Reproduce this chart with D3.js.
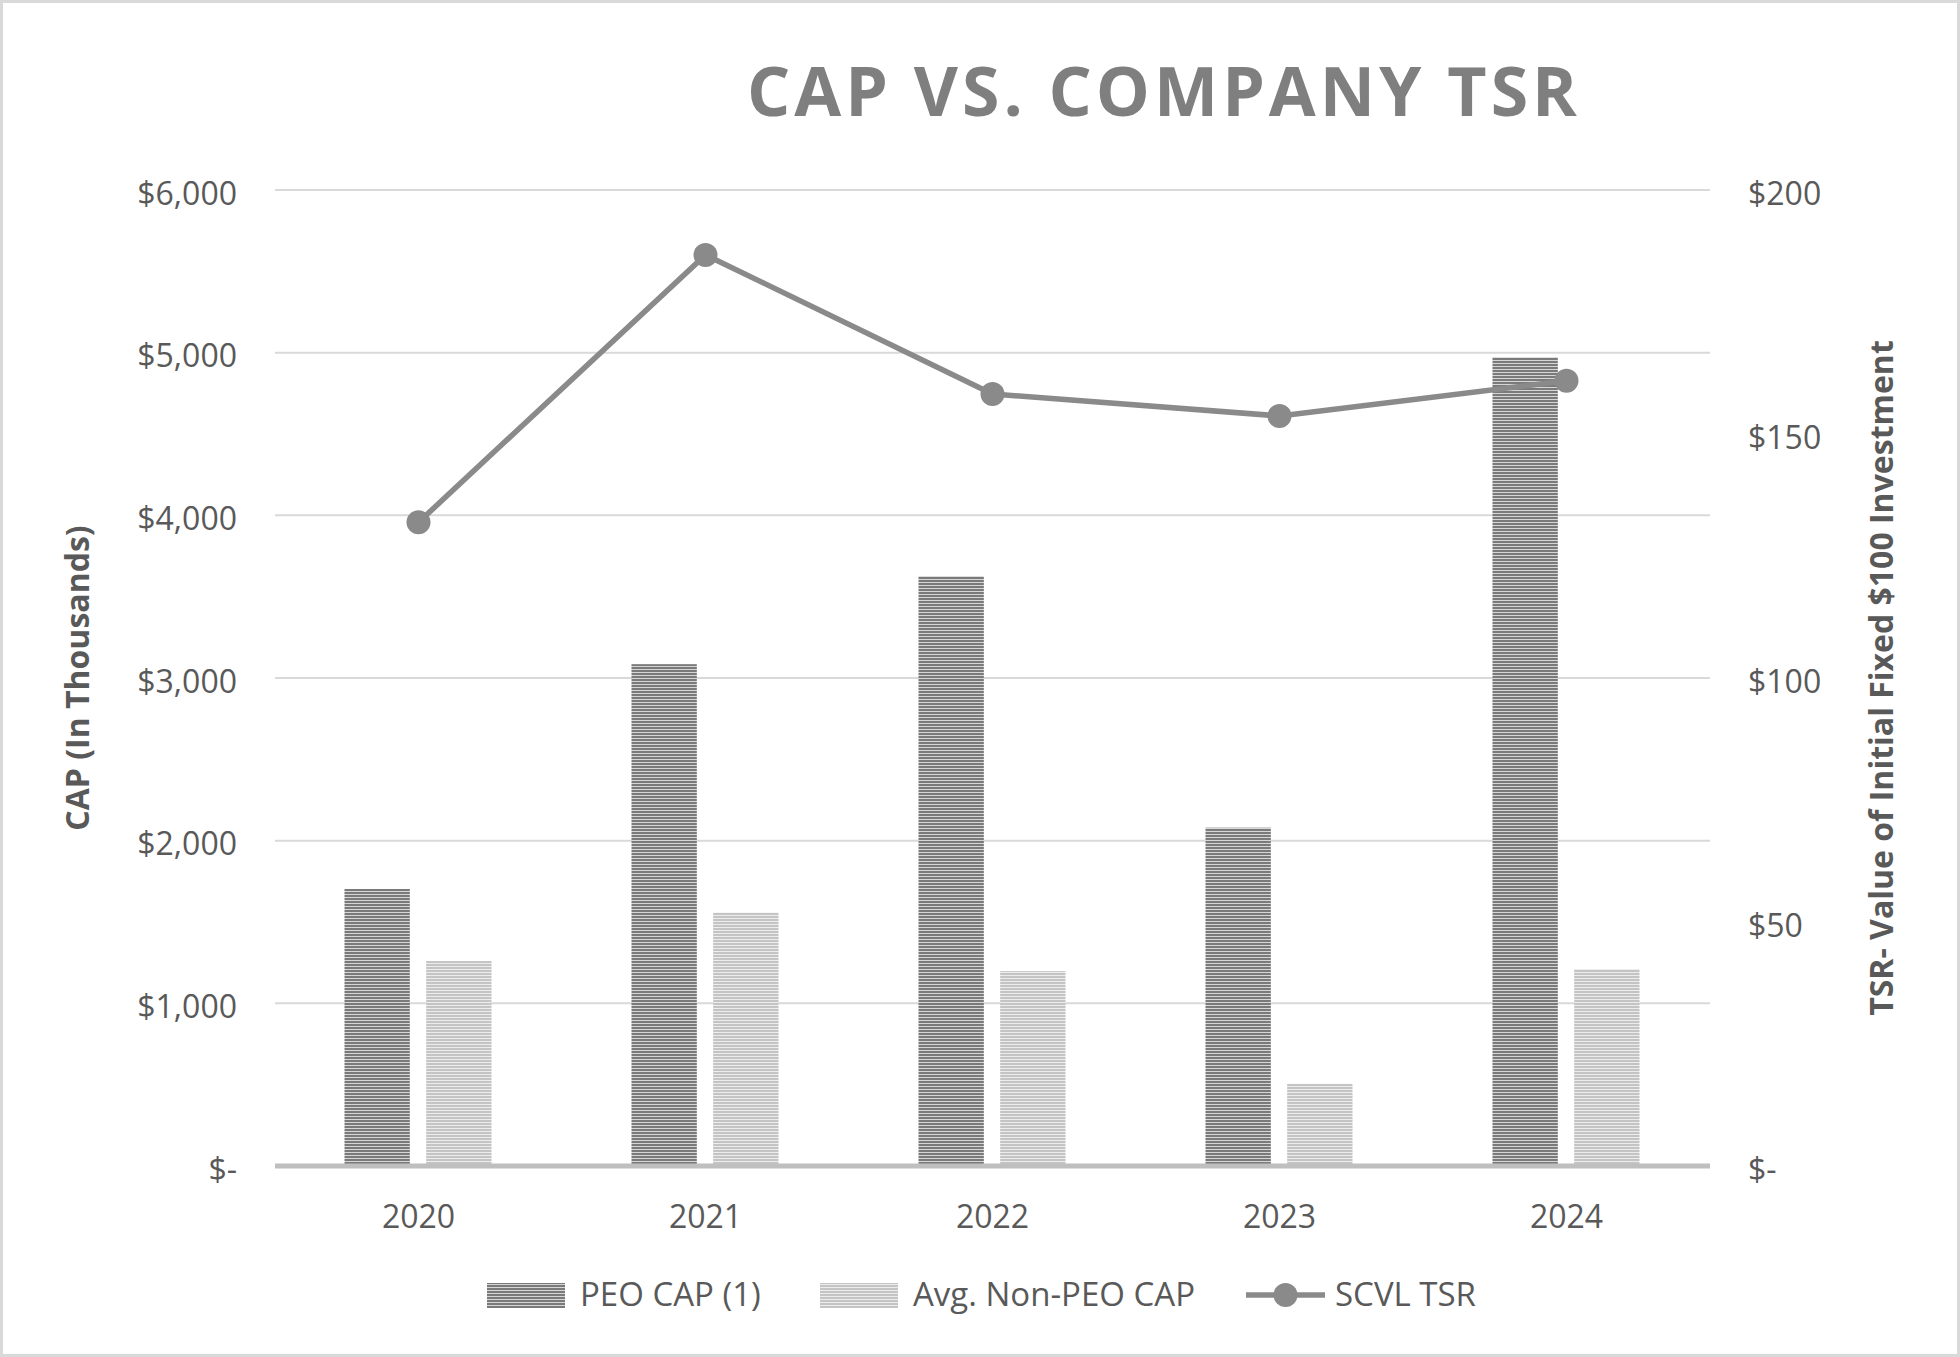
<!DOCTYPE html>
<html>
<head>
<meta charset="utf-8">
<script src="https://cdn.jsdelivr.net/npm/d3@7"></script>
<style>
  html, body { margin: 0; padding: 0; background: #fff; }
  svg { display: block; font-family: "Open Sans", sans-serif; }
</style>
</head>
<body>
<div id="chart"></div>
<script>
// Data
const years = ["2020", "2021", "2022", "2023", "2024"];
const peoCap = [1703, 3085, 3626, 2080, 4972];        // $ thousands
const nonPeoCap = [1260, 1558, 1198, 505, 1211];      // $ thousands
const scvlTsr = [131.9, 186.7, 158.2, 153.7, 160.9];  // value of $100
const leftTicks = [0, 1000, 2000, 3000, 4000, 5000, 6000];
const rightTicks = [0, 50, 100, 150, 200];
const seriesNames = ["PEO CAP (1)", "Avg. Non-PEO CAP", "SCVL TSR"];

const width = 1960, height = 1357;
const plot = { left: 275, right: 1710, top: 190, bottom: 1166 };
const textColor = "#595959";
const lineColor = "#8a8a8a";

const svg = d3.select("#chart").append("svg")
    .attr("width", width).attr("height", height);

// Striped fills like the Excel pattern bars
const defs = svg.append("defs");
function stripes(id, bg, fg) {
    const p = defs.append("pattern").attr("id", id)
        .attr("patternUnits", "userSpaceOnUse")
        .attr("width", 6).attr("height", 3);
    p.append("rect").attr("width", 6).attr("height", 3).attr("fill", bg);
    p.append("rect").attr("y", 1).attr("width", 6).attr("height", 2).attr("fill", fg);
}
stripes("pat-dark", "#d6d6d6", "#7a7a7a");
stripes("pat-light", "#ececec", "#c4c4c4");

// Outer border
svg.append("rect").attr("x", 1.5).attr("y", 1.5)
    .attr("width", width - 3).attr("height", height - 3)
    .attr("fill", "#fff").attr("stroke", "#d9d9d9").attr("stroke-width", 3);

// Scales
const x = d3.scaleBand().domain(years).range([plot.left, plot.right]).padding(0);
const xs = d3.scaleBand().domain([0, 1]).range([-74, 73]).paddingInner(0.2).paddingOuter(0);
const y = d3.scaleLinear().domain([0, 6000]).range([plot.bottom, plot.top]);
const y2 = d3.scaleLinear().domain([0, 200]).range([plot.bottom, plot.top]);

// Gridlines
svg.append("g").selectAll("line").data(leftTicks.filter(d => d > 0)).enter().append("line")
    .attr("x1", plot.left).attr("x2", plot.right)
    .attr("y1", d => y(d)).attr("y2", d => y(d))
    .attr("stroke", "#d9d9d9").attr("stroke-width", 2);

// Left axis labels
const fmtLeft = d => d === 0 ? "$-" : "$" + d3.format(",")(d);
svg.append("g").selectAll("text").data(leftTicks).enter().append("text")
    .attr("x", 237).attr("y", d => y(d) + 6)
    .attr("text-anchor", "end").attr("dominant-baseline", "middle")
    .attr("font-size", 32).attr("fill", textColor)
    .text(fmtLeft);

// Right axis labels
const fmtRight = d => d === 0 ? "$-" : "$" + d;
svg.append("g").selectAll("text").data(rightTicks).enter().append("text")
    .attr("x", 1748).attr("y", d => y2(d) + 6)
    .attr("text-anchor", "start").attr("dominant-baseline", "middle")
    .attr("font-size", 32).attr("fill", textColor)
    .text(fmtRight);

// Bars
const barG = svg.append("g");
barG.selectAll("rect.peo").data(years).enter().append("rect")
    .attr("class", "peo")
    .attr("x", (d) => x(d) + x.bandwidth() / 2 + xs(0))
    .attr("width", xs.bandwidth())
    .attr("y", (d, i) => y(peoCap[i]))
    .attr("height", (d, i) => plot.bottom - y(peoCap[i]))
    .attr("fill", "url(#pat-dark)");
barG.selectAll("rect.non").data(years).enter().append("rect")
    .attr("class", "non")
    .attr("x", (d) => x(d) + x.bandwidth() / 2 + xs(1))
    .attr("width", xs.bandwidth())
    .attr("y", (d, i) => y(nonPeoCap[i]))
    .attr("height", (d, i) => plot.bottom - y(nonPeoCap[i]))
    .attr("fill", "url(#pat-light)");

// X axis line
svg.append("line")
    .attr("x1", plot.left).attr("x2", plot.right)
    .attr("y1", plot.bottom).attr("y2", plot.bottom)
    .attr("stroke", "#bfbfbf").attr("stroke-width", 5);

// X labels
svg.append("g").selectAll("text").data(years).enter().append("text")
    .attr("x", d => x(d) + x.bandwidth() / 2).attr("y", 1228)
    .attr("text-anchor", "middle").attr("font-size", 32).attr("fill", textColor)
    .text(d => d);

// TSR line
const line = d3.line()
    .x((d, i) => x(years[i]) + x.bandwidth() / 2)
    .y(d => y2(d));
svg.append("path").datum(scvlTsr)
    .attr("d", line).attr("fill", "none")
    .attr("stroke", lineColor).attr("stroke-width", 5.5).attr("stroke-linejoin", "round");
svg.append("g").selectAll("circle").data(scvlTsr).enter().append("circle")
    .attr("cx", (d, i) => x(years[i]) + x.bandwidth() / 2)
    .attr("cy", d => y2(d)).attr("r", 12).attr("fill", lineColor);

// Title
svg.append("text")
    .attr("x", 1162).attr("y", 116).attr("text-anchor", "middle")
    .attr("font-size", 68).attr("font-weight", "bold").attr("fill", "#7f7f7f")
    .attr("textLength", 830).attr("lengthAdjust", "spacing")
    .text("CAP VS. COMPANY TSR");

// Axis titles
svg.append("text")
    .attr("transform", `translate(89, ${(plot.top + plot.bottom) / 2}) rotate(-90)`)
    .attr("text-anchor", "middle").attr("font-size", 32).attr("font-weight", "bold")
    .attr("fill", textColor).text("CAP (In Thousands)");
svg.append("text")
    .attr("transform", `translate(1893, ${(plot.top + plot.bottom) / 2}) rotate(-90)`)
    .attr("text-anchor", "middle").attr("font-size", 32).attr("font-weight", "bold")
    .attr("fill", textColor).text("TSR- Value of Initial Fixed $100 Investment");

// Legend
const legY = 1295;
const leg = svg.append("g");
const legX = [487, 820, 1246];
leg.append("rect").attr("x", legX[0]).attr("y", legY - 12).attr("width", 78).attr("height", 25).attr("fill", "url(#pat-dark)");
leg.append("rect").attr("x", legX[1]).attr("y", legY - 12).attr("width", 78).attr("height", 25).attr("fill", "url(#pat-light)");
leg.append("line").attr("x1", legX[2]).attr("x2", legX[2] + 79).attr("y1", legY).attr("y2", legY)
    .attr("stroke", lineColor).attr("stroke-width", 5.5);
leg.append("circle").attr("cx", legX[2] + 39.5).attr("cy", legY).attr("r", 12).attr("fill", lineColor);
leg.selectAll("text").data(seriesNames).enter().append("text")
    .attr("x", (d, i) => legX[i] + (i === 2 ? 89 : 93))
    .attr("y", legY + 2).attr("dominant-baseline", "middle")
    .attr("font-size", 33).attr("fill", textColor)
    .text(d => d);
</script>
</body>
</html>
